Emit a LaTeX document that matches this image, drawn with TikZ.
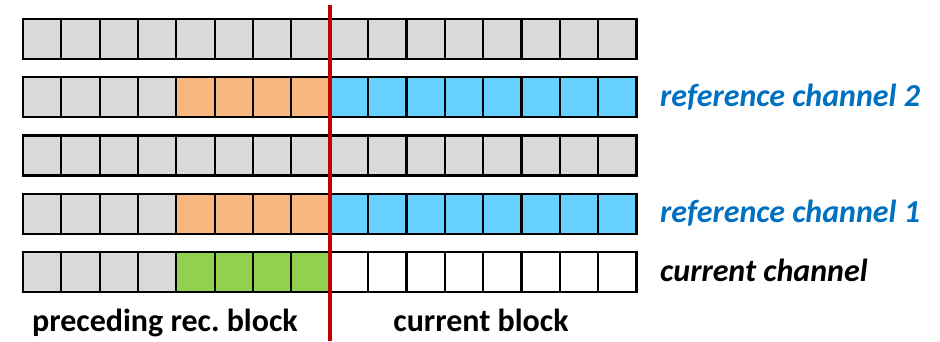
\documentclass[tikz,border=0pt]{standalone}
\usepackage{fontspec}
\setmainfont{Carlito}
\frenchspacing
\definecolor{cellgrey}{HTML}{D9D9D9}
\definecolor{cellorange}{HTML}{F8B77F}
\definecolor{cellblue}{HTML}{66D1FF}
\definecolor{cellgreen}{HTML}{92D050}
\definecolor{refblue}{HTML}{0070C0}
\definecolor{divred}{HTML}{C00000}
\begin{document}
\begin{tikzpicture}[x=1pt,y=-1pt,
  cell/.style={draw=black, line width=2.2pt, minimum width=38.34pt,
    minimum height=40pt, inner sep=0pt, outer sep=0pt, anchor=north west},
  chanlabel/.style={anchor=base west, inner sep=0pt,
    font=\bfseries\itshape\fontsize{32}{38}\selectfont},
  blocklabel/.style={anchor=base, inner sep=0pt, font=\bfseries\fontsize{32}{38}\selectfont},
  divider/.style={draw=divred, line width=4.5pt}]
\useasboundingbox (0,0) rectangle (940,341);

% five channels of sixteen samples: 4 older, 4 preceding, 8 current
\foreach \r/\md/\rt in {0/cellgrey/cellgrey, 1/cellorange/cellblue,
                        2/cellgrey/cellgrey, 3/cellorange/cellblue,
                        4/cellgreen/white} {
  \foreach \c in {0,...,15} {
    \ifnum\c<4 \def\fc{cellgrey}\else\ifnum\c<8 \def\fc{\md}\else\def\fc{\rt}\fi\fi
    \node[cell, fill=\fc] (c\r-\c) at ({23+\c*38.34}, {19+\r*58.25}) {};
  }
}

% block boundary
\coordinate (divtop) at (330,5);
\coordinate (divbot) at (330,341);
\draw[divider] (divtop) -- (divbot);

% channel labels, baselines just below the row centres
\node[chanlabel, text=refblue] (lref2) at (660, {19+1*58.25+29}) {reference channel 2};
\node[chanlabel, text=refblue] (lref1) at (660, {19+3*58.25+29}) {reference channel 1};
\node[chanlabel, text=black] (lcur) at (660, {19+4*58.25+29}) {current channel};

% block labels
\node[blocklabel] (lprev) at (165,331) {preceding rec. block};
\node[blocklabel] (lblock) at (481,331) {current block};
\end{tikzpicture}
\end{document}
